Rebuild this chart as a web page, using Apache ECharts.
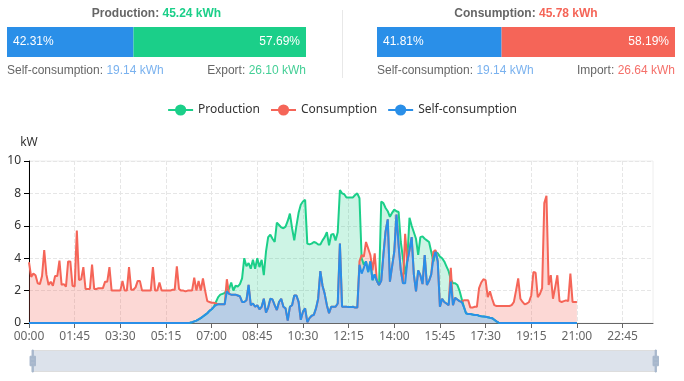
<!DOCTYPE html>
<html><head><meta charset="utf-8">
<script src="https://cdn.jsdelivr.net/npm/echarts@6.0.0/dist/echarts.min.js"></script>
<style>
html,body{margin:0;padding:0;background:#fff;}
#chart{position:absolute;left:0;top:0;width:684px;height:381px;}
.t{position:absolute;font-family:'Liberation Sans',Arial,sans-serif;font-size:12px;line-height:14px;white-space:nowrap;color:#666;}
.b{font-weight:bold;}
#sep{position:absolute;left:342px;top:10px;width:1px;height:68px;background:#e8e8e8;}
</style></head><body>
<div id="chart"></div>
<div id="sep"></div>
<div class="t b" id="pt" style="left:7px;width:299px;top:6px;text-align:center"></div>
<div class="t" id="ps" style="left:7px;top:63px"></div>
<div class="t" id="pe" style="right:378px;top:63px;text-align:right"></div>
<div class="t b" id="ct" style="left:377px;width:298px;top:6px;text-align:center"></div>
<div class="t" id="cs" style="left:377px;top:63px"></div>
<div class="t" id="ci" style="right:9px;top:63px;text-align:right"></div>
<script>
// ---- summary data ----
const productionTotal = '45.24';
const consumptionTotal = '45.78';
const selfConsumption = '19.14';
const exportEnergy = '26.10';
const importEnergy = '26.64';
const productionShares = [42.31, 57.69];   // self-consumption, export
const consumptionShares = [41.81, 58.19];  // self-consumption, import

// ---- time series (5-minute steps, kW) ----
const seriesNames = ['Production', 'Consumption', 'Self-consumption'];
const production = [
0,0,0,0,0,0,0,0,0,0,
0,0,0,0,0,0,0,0,0,0,
0,0,0,0,0,0,0,0,0,0,
0,0,0,0,0,0,0,0,0,0,
0,0,0,0,0,0,0,0,0,0,
0,0,0,0,0,0,0,0,0,0,
0,0,0,0,0,0,0,0,0,0,
0,0,0,0,0.02,0.05,0.1,0.15,0.22,0.3,
0.4,0.5,0.6,0.75,0.85,1.0,1.3,1.6,1.75,1.8,
1.85,2.05,2.1,2.5,2.0,2.3,2.25,2.4,2.75,4.0,
3.5,3.7,3.35,3.9,3.35,4.0,3.45,3.9,2.95,4.4,
5.3,5.45,5.2,5.0,6.2,6.05,5.9,5.85,5.95,6.3,
6.75,5.85,5.1,6.0,6.8,7.3,7.5,7.6,4.9,4.85,
4.9,5.0,4.95,4.85,4.85,5.1,5.3,5.6,4.8,5.45,
5.5,5.1,5.6,8.2,8.0,7.95,7.75,7.75,7.75,7.75,
7.9,8.0,7.7,4.0,3.6,3.8,3.15,3.8,2.65,3.0,
2.6,2.35,7.5,7.4,7.1,6.9,6.55,6.8,7.0,6.9,
6.85,5.0,4.0,3.0,3.9,6.5,6.0,5.6,5.2,4.2,
5.3,5.35,5.2,5.1,5.0,4.4,3.8,4.4,4.3,4.1,
4.0,3.8,3.5,3.2,2.7,2.45,2.45,2.35,2.0,1.5,
1.0,0.6,0.55,0.55,0.52,0.5,0.5,0.45,0.42,0.4,
0.38,0.35,0.32,0.3,0.2,0.1,0.02,0,0,0,
0,0,0,0,0,0,0,0,0,0,
0,0,0,0,0,0,0,0,0,0,
0,0,0,0,0,0,0,0,0,0,
0,0,0
];
const consumption = [
3.75,2.85,3.05,2.95,2.45,2.4,2.9,4.5,3.0,2.35,
2.55,2.3,2.9,2.9,3.85,2.35,2.4,2.25,3.8,3.8,
2.3,2.25,5.7,2.65,2.7,3.45,2.1,2.1,2.1,3.6,
2.1,2.1,2.15,2.15,2.15,2.55,2.55,3.45,2.0,2.0,
2.0,2.0,2.0,2.6,2.0,2.0,3.45,2.05,2.05,2.2,
2.6,2.6,2.0,2.0,2.0,2.0,2.0,3.45,2.0,2.0,
2.5,2.0,2.0,2.0,2.0,2.0,2.05,2.05,3.5,2.1,
2.0,2.0,1.95,2.0,2.0,2.0,2.8,2.0,2.6,2.0,
2.75,2.0,1.35,1.3,1.25,1.25,1.2,1.15,1.15,1.15,
1.15,2.7,1.8,1.75,1.75,1.75,1.7,1.65,1.3,1.3,
1.4,2.35,1.1,1.2,1.0,1.1,0.85,1.0,1.5,0.65,
0.95,1.5,1.45,1.1,0.8,1.3,1.5,1.0,0.9,0.15,
1.0,1.1,1.7,1.7,1.3,0.2,0.7,0.9,0.05,0.3,
0.45,0.5,0.9,1.5,3.2,2.3,1.8,1.1,0.6,1.0,
1.0,1.0,1.2,4.9,1.0,1.0,1.0,0.98,0.98,1.0,
0.95,0.95,3.8,4.2,4.1,5.0,4.6,4.2,3.25,4.3,
2.6,2.35,2.6,4.2,5.65,6.4,2.55,3.5,4.4,6.7,
4.8,3.25,2.45,5.5,3.8,4.5,5.3,3.0,1.95,3.25,
2.95,2.4,4.2,2.35,2.6,3.0,4.4,4.5,3.8,1.0,
1.5,1.3,1.2,1.1,3.4,1.1,1.55,1.45,1.35,1.3,
1.4,1.4,1.4,0.95,0.95,1.0,1.0,2.15,2.5,2.7,
2.65,1.6,1.95,1.5,1.1,1.05,1.05,1.05,1.05,1.05,
1.05,1.05,1.1,1.3,2.0,2.75,1.5,1.3,1.15,1.2,
1.3,1.7,3.15,3.1,1.6,1.8,2.15,7.4,7.85,2.35,
2.95,1.5,2.2,2.95,1.35,1.3,1.35,1.4,1.35,3.05,
1.3,1.3,1.3
];
const selfConsumptionSeries = [
0,0,0,0,0,0,0,0,0,0,
0,0,0,0,0,0,0,0,0,0,
0,0,0,0,0,0,0,0,0,0,
0,0,0,0,0,0,0,0,0,0,
0,0,0,0,0,0,0,0,0,0,
0,0,0,0,0,0,0,0,0,0,
0,0,0,0,0,0,0,0,0,0,
0,0,0,0,0.02,0.05,0.1,0.15,0.22,0.3,
0.4,0.5,0.6,0.75,0.85,1.0,1.1,1.15,1.15,1.15,
1.15,1.95,1.8,1.75,1.75,1.75,1.7,1.65,1.3,1.3,
1.4,2.35,1.1,1.2,1.0,1.1,0.85,1.0,1.5,0.65,
0.95,1.5,1.45,1.1,0.8,1.3,1.5,1.0,0.9,0.15,
1.0,1.1,1.7,1.7,1.3,0.2,0.7,0.9,0.05,0.3,
0.45,0.5,0.9,1.5,3.2,2.3,1.8,1.1,0.6,1.0,
1.0,1.0,1.2,4.9,1.0,1.0,1.0,0.98,0.98,1.0,
0.95,0.95,3.6,3.05,3.4,3.8,3.15,3.8,2.65,3.0,
2.6,2.35,2.6,4.2,5.65,6.4,2.55,3.5,4.4,6.7,
4.8,3.25,2.45,2.45,3.8,4.5,5.3,3.0,1.95,3.25,
2.95,2.4,4.2,2.35,2.6,3.0,4.0,4.4,3.8,1.0,
1.5,1.3,1.2,1.1,2.55,1.1,1.55,1.45,1.35,1.3,
1.0,0.6,0.55,0.55,0.52,0.5,0.5,0.45,0.42,0.4,
0.38,0.35,0.32,0.3,0.2,0.1,0.02,0,0,0,
0,0,0,0,0,0,0,0,0,0,
0,0,0,0,0,0,0,0,0,0,
0,0,0,0,0,0,0,0,0,0,
0,0,0
];
// x categories: every 5 minutes of the day
const times = [];
for (let m = 0; m < 24 * 60; m += 5) {
  times.push(String(Math.floor(m / 60)).padStart(2, '0') + ':' + String(m % 60).padStart(2, '0'));
}

const GREEN = '#1bcf89', RED = '#f56558', BLUE = '#2a8fe8';

document.getElementById('pt').innerHTML = 'Production: <span style="color:' + GREEN + '">' + productionTotal + ' kWh</span>';
document.getElementById('ps').innerHTML = 'Self-consumption: <span style="color:#7ab2ef">' + selfConsumption + ' kWh</span>';
document.getElementById('pe').innerHTML = 'Export: <span style="color:#44cf96">' + exportEnergy + ' kWh</span>';
document.getElementById('ct').innerHTML = 'Consumption: <span style="color:' + RED + '">' + consumptionTotal + ' kWh</span>';
document.getElementById('cs').innerHTML = 'Self-consumption: <span style="color:#7ab2ef">' + selfConsumption + ' kWh</span>';
document.getElementById('ci').innerHTML = 'Import: <span style="color:#f5706a">' + importEnergy + ' kWh</span>';

const FONT = "'Noto Sans', sans-serif";
const pctLabel = (pos) => ({
  show: true, position: pos, distance: 6, color: '#fff', fontSize: 12,
  fontFamily: "'Liberation Sans', Arial, sans-serif",
  formatter: p => p.value.toFixed(2) + '%'
});

const chart = echarts.init(document.getElementById('chart'), null, {renderer: 'canvas'});
chart.setOption({
  animation: false,
  textStyle: {fontFamily: FONT},
  legend: {
    data: seriesNames, top: 99, left: 'center', itemGap: 10, itemWidth: 25, itemHeight: 14,
    textStyle: {fontFamily: FONT, fontSize: 12, color: '#333'}
  },
  grid: [
    {left: 29, right: 31, top: 161, bottom: 58, show: true, borderColor: '#eee', borderWidth: 1},
    {left: 7, width: 299, top: 27, height: 30},
    {left: 377, width: 298, top: 27, height: 30}
  ],
  xAxis: [
    {
      type: 'category', data: times, boundaryGap: false, gridIndex: 0,
      axisLine: {lineStyle: {color: '#666'}},
      axisTick: {interval: 20, lineStyle: {color: '#666'}},
      axisLabel: {interval: 20, color: '#666', fontSize: 12, fontFamily: FONT},
      splitLine: {show: true, interval: 20, lineStyle: {type: 'dashed', color: '#e6e6e6'}}
    },
    {type: 'value', gridIndex: 1, min: 0, max: 100, show: false},
    {type: 'value', gridIndex: 2, min: 0, max: 100, show: false}
  ],
  yAxis: [
    {
      type: 'value', gridIndex: 0, min: 0, max: 10, interval: 2, name: 'kW', nameGap: 12,
      nameTextStyle: {color: '#333', fontSize: 12, fontFamily: FONT},
      axisLine: {show: true, lineStyle: {color: '#000'}},
      axisTick: {show: true, lineStyle: {color: '#000'}},
      axisLabel: {color: '#333', fontSize: 12, fontFamily: FONT},
      splitLine: {lineStyle: {type: 'dashed', color: '#e6e6e6'}}
    },
    {type: 'category', gridIndex: 1, data: ['p'], show: false},
    {type: 'category', gridIndex: 2, data: ['c'], show: false}
  ],
  dataZoom: [{
    type: 'slider', xAxisIndex: 0, start: 0, end: 100,
    left: 31, right: 28, top: 350, height: 22,
    showDataShadow: false, showDetail: false, brushSelect: false,
    backgroundColor: 'rgba(47,69,84,0)',
    fillerColor: 'rgba(167,183,204,0.4)', borderColor: '#ddd',
    handleIcon: 'M8.2,13.6V3.9H6.3v9.7H3.1v14.9h3.3v9.7h1.8v-9.7h3.3V13.6H8.2z M9.7,24.4H4.8v-1.4h4.9V24.4z M9.7,19.1H4.8v-1.4h4.9V19.1z',
    handleSize: '100%',
    handleStyle: {color: '#a7b7cc', borderColor: '#a7b7cc'},
    moveHandleSize: 0,
    emphasis: {handleStyle: {color: '#a7b7cc'}}
  }],
  series: [
    {
      name: 'Production', type: 'line', data: production, xAxisIndex: 0, yAxisIndex: 0,
      symbol: 'circle', showSymbol: false, color: GREEN,
      lineStyle: {width: 2, color: GREEN}, areaStyle: {color: GREEN, opacity: 0.22}
    },
    {
      name: 'Consumption', type: 'line', data: consumption, xAxisIndex: 0, yAxisIndex: 0,
      symbol: 'circle', showSymbol: false, color: RED,
      lineStyle: {width: 2, color: RED}, areaStyle: {color: RED, opacity: 0.25}
    },
    {
      name: 'Self-consumption', type: 'line', data: selfConsumptionSeries, xAxisIndex: 0, yAxisIndex: 0,
      symbol: 'circle', showSymbol: false, color: BLUE,
      lineStyle: {width: 2, color: BLUE}, areaStyle: {color: '#b8cee6', opacity: 1}
    },
    {type: 'bar', xAxisIndex: 1, yAxisIndex: 1, stack: 'p', barWidth: '100%', data: [productionShares[0]],
      itemStyle: {color: BLUE}, label: pctLabel('insideLeft'), silent: true},
    {type: 'bar', xAxisIndex: 1, yAxisIndex: 1, stack: 'p', barWidth: '100%', data: [productionShares[1]],
      itemStyle: {color: GREEN}, label: pctLabel('insideRight'), silent: true},
    {type: 'bar', xAxisIndex: 2, yAxisIndex: 2, stack: 'c', barWidth: '100%', data: [consumptionShares[0]],
      itemStyle: {color: BLUE}, label: pctLabel('insideLeft'), silent: true},
    {type: 'bar', xAxisIndex: 2, yAxisIndex: 2, stack: 'c', barWidth: '100%', data: [consumptionShares[1]],
      itemStyle: {color: RED}, label: pctLabel('insideRight'), silent: true}
  ]
});
</script>
</body></html>
